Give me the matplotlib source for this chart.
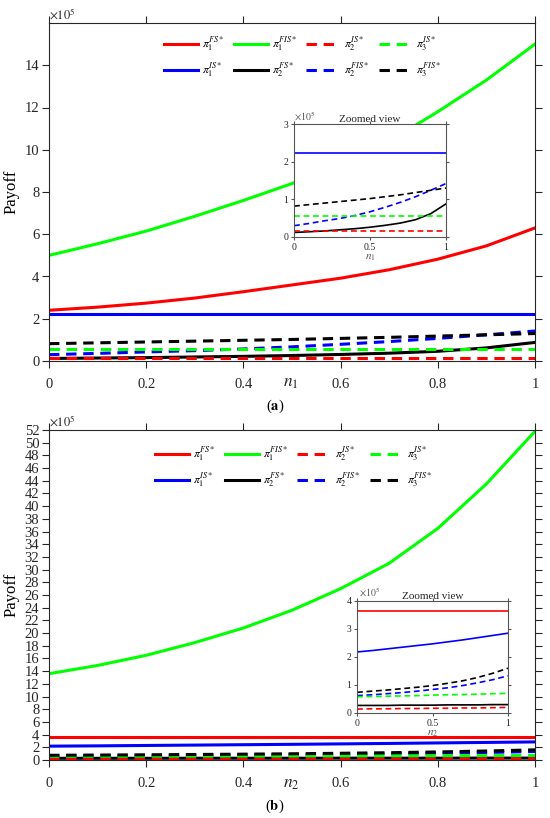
import matplotlib
matplotlib.use('Agg')
import matplotlib.pyplot as plt

plt.rcParams['font.family'] = ['Liberation Serif', 'DejaVu Serif']
plt.rcParams['mathtext.fontset'] = 'stix'

# 横轴 n1 / n2
n = [0.0, 0.1, 0.2, 0.3, 0.4, 0.5, 0.6, 0.7, 0.8, 0.9, 1.0]

# (a) 各收益，单位 1e5
fs1_a = [2.40, 2.55, 2.74, 2.98, 3.28, 3.60, 3.92, 4.32, 4.82, 5.45, 6.30]
fis1_a = [5.00, 5.55, 6.15, 6.85, 7.60, 8.40, 9.30, 10.40, 11.80, 13.30, 15.00]
is1_a = [2.22] * 11
fs2_a = [0.12, 0.14, 0.16, 0.19, 0.22, 0.26, 0.31, 0.37, 0.46, 0.62, 0.88]
is2_a = [0.15] * 11
is3_a = [0.55] * 11
fis2_a = [0.30, 0.36, 0.43, 0.49, 0.57, 0.67, 0.79, 0.92, 1.07, 1.24, 1.42]
fis3_a = [0.82, 0.86, 0.90, 0.94, 0.98, 1.02, 1.07, 1.12, 1.18, 1.24, 1.30]

# (b)
fs1_b = [3.65] * 11
fis1_b = [13.6, 14.9, 16.5, 18.5, 20.8, 23.6, 27.0, 31.0, 36.5, 43.5, 51.8]
is1_b = [2.18, 2.23, 2.29, 2.35, 2.41, 2.47, 2.54, 2.61, 2.69, 2.77, 2.85]
fs2_b = [0.27, 0.27, 0.27, 0.28, 0.28, 0.28, 0.29, 0.29, 0.29, 0.30, 0.30]
is2_b = [0.14, 0.15, 0.15, 0.16, 0.16, 0.17, 0.17, 0.18, 0.18, 0.19, 0.20]
is3_b = [0.58, 0.59, 0.60, 0.61, 0.62, 0.64, 0.65, 0.66, 0.67, 0.69, 0.70]
fis2_b = [0.62, 0.65, 0.69, 0.73, 0.78, 0.84, 0.90, 0.98, 1.08, 1.19, 1.33]
fis3_b = [0.74, 0.78, 0.82, 0.87, 0.92, 0.98, 1.06, 1.15, 1.27, 1.42, 1.60]

labels = [r'$\pi_1^{FS*}$', r'$\pi_1^{FIS*}$', r'$\pi_1^{IS*}$', r'$\pi_2^{FS*}$',
          r'$\pi_2^{IS*}$', r'$\pi_2^{FIS*}$', r'$\pi_3^{IS*}$', r'$\pi_3^{FIS*}$']
colors = ['red', '#00ff00', 'blue', 'black', 'red', 'blue', '#00ff00', 'black']
styles = ['-', '-', '-', '-', '--', '--', '--', '--']
# 图例按列排列：第一行 FS1 FIS1 IS2 IS3，第二行 IS1 FS2 FIS2 FIS3
legend_order = [0, 2, 1, 3, 4, 5, 6, 7]

W, H = 550, 818
fig = plt.figure(figsize=(5.5, 8.18), dpi=100)


def box(x0, y0, x1, y1):
    return [x0 / W, 1 - y1 / H, (x1 - x0) / W, (y1 - y0) / H]


def px(x, y):
    return (x / W, 1 - y / H)


def style_axes(ax, spine_color, tick_len, labelsize, pad):
    for s in ax.spines.values():
        s.set_color(spine_color)
        s.set_linewidth(0.8)
    ax.tick_params(direction='out', length=tick_len, width=0.8, color=spine_color,
                   labelcolor='#262626', labelsize=labelsize, top=True, right=True)
    ax.tick_params(axis='x', pad=pad)


def draw_panel(series, main_box, inset_box, ymax, yticks, inset_ymax, inset_skip, xname,
               legend_xy, xlab_y, cap, cap_y, exp_xy, inset_exp_xy):
    ax = fig.add_axes(box(*main_box))
    lines = []
    for y, c, ls in zip(series, colors, styles):
        if ls == '--':
            ln, = ax.plot(n, y, color=c, lw=2.2, ls=ls, dashes=(3.4, 2.2))
        else:
            ln, = ax.plot(n, y, color=c, lw=2.2, ls=ls)
        lines.append(ln)
    ax.set_xlim(0, 1)
    ax.set_ylim(0, ymax)
    ax.set_xticks([0, 0.2, 0.4, 0.6, 0.8, 1.0])
    ax.set_xticklabels(['0', '0.2', '0.4', '0.6', '0.8', '1'])
    ax.set_yticks(yticks)
    ax.set_yticklabels([str(v) for v in yticks])
    style_axes(ax, '#262626', 5, 10.5, 7)
    ax.tick_params(axis='y', pad=2)
    ax.set_ylabel('Payoff', fontsize=12, labelpad=4)
    fig.text(*exp_xy, r'$\times10^5$', fontsize=9, ha='left', va='center', color='#262626')
    fig.text(*px(291, xlab_y), xname, fontsize=12.5, ha='center', va='center', color='#262626')
    fig.text(*px(275, cap_y), '(' + r'$\mathbf{' + cap + '}$' + ')', fontsize=10.5,
             ha='center', va='center')

    ax.legend([lines[i] for i in legend_order], [labels[i] for i in legend_order],
              ncol=4, loc='upper left', bbox_to_anchor=px(*legend_xy),
              bbox_transform=fig.transFigure, frameon=False, fontsize=8.5,
              handlelength=2.9, handletextpad=0.3, columnspacing=0.8,
              labelspacing=0.7, borderpad=0, borderaxespad=0)

    # 局部放大图
    ins = fig.add_axes(box(*inset_box))
    for i, (y, c, ls) in enumerate(zip(series, colors, styles)):
        if i in inset_skip:
            continue
        if ls == '--':
            ins.plot(n, y, color=c, lw=1.2, ls=ls, dashes=(3.5, 2.2))
        else:
            ins.plot(n, y, color=c, lw=1.2, ls=ls)
    ins.set_xlim(0, 1)
    ins.set_ylim(0, inset_ymax)
    ins.set_xticks([0, 0.5, 1])
    ins.set_xticklabels(['0', '0.5', '1'])
    ins.set_yticks(range(inset_ymax + 1))
    style_axes(ins, '#555555', 2, 7, 2)
    ins.tick_params(axis='y', pad=2)
    ins.set_title('Zoomed view', fontsize=8, pad=1.5, color='#262626')
    ins.set_xlabel(xname, fontsize=8, labelpad=1, color='#555555')
    fig.text(*inset_exp_xy, r'$\times10^5$', fontsize=7, ha='left', va='center', color='#555555')


draw_panel([fs1_a, fis1_a, is1_a, fs2_a, is2_a, fis2_a, is3_a, fis3_a],
           (49, 23, 535, 361), (294, 124, 446, 237), 16, list(range(0, 15, 2)), 3, (0, 1),
           r'$n_1$', (164, 35), 383, 'a', 406, px(49, 15), px(294, 116))

draw_panel([fs1_b, fis1_b, is1_b, fs2_b, is2_b, fis2_b, is3_b, fis3_b],
           (49, 430, 535, 760), (357, 601, 508, 713), 52, list(range(0, 53, 2)), 4, (1,),
           r'$n_2$', (155, 445), 784, 'b', 806, px(49, 422), px(359, 592))

fig.savefig('out.png', dpi=100)
